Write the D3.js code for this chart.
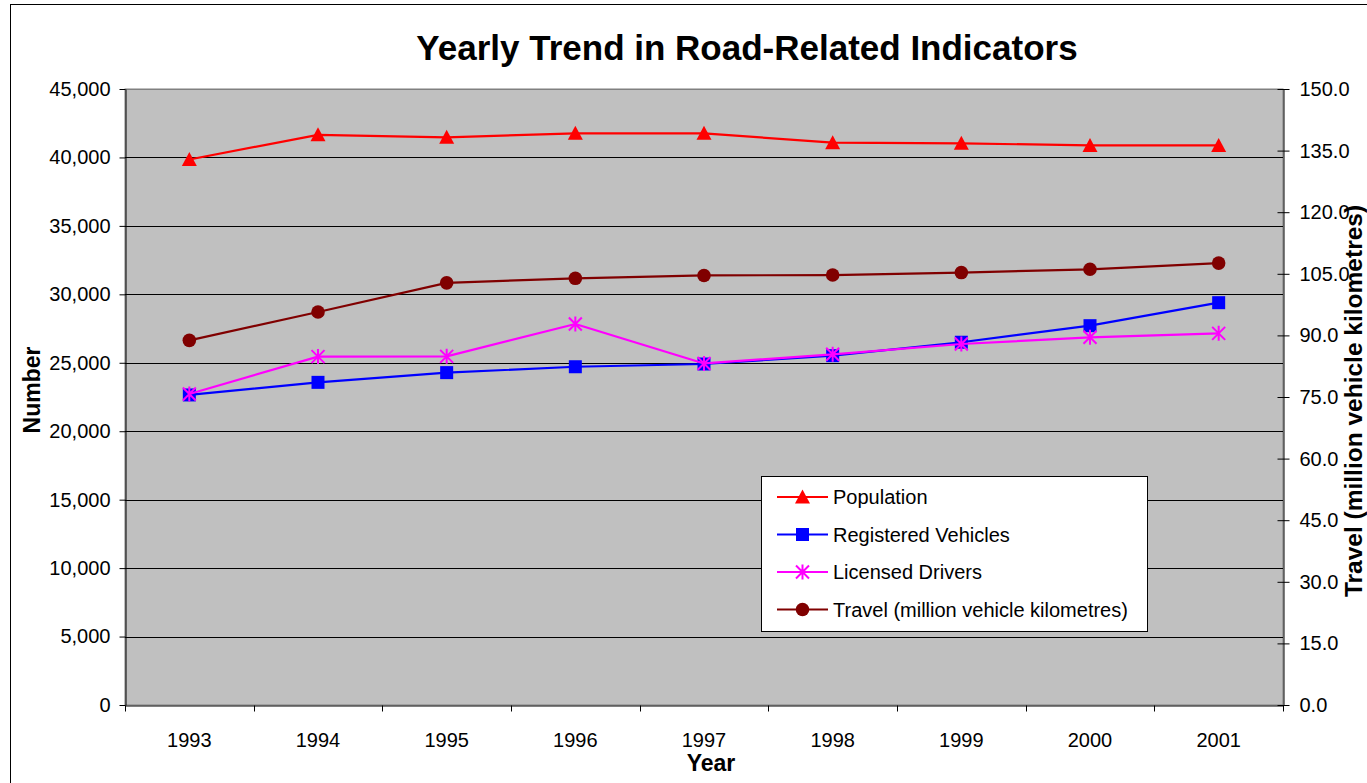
<!DOCTYPE html>
<html>
<head>
<meta charset="utf-8">
<script src="https://cdn.jsdelivr.net/npm/d3@7"></script>
<style>
  html, body { margin: 0; padding: 0; background: #ffffff; }
  svg { display: block; }
  text { font-family: "Liberation Sans", Arial, Helvetica, sans-serif; fill: #000; }
</style>
</head>
<body>
<svg id="chart" width="1367" height="783"></svg>
<script>
// ---- Data ----
const years = ["1993", "1994", "1995", "1996", "1997", "1998", "1999", "2000", "2001"];
const population = [39850, 41650, 41470, 41760, 41760, 41080, 41030, 40880, 40880];
const registeredVehicles = [22650, 23570, 24280, 24710, 24910, 25520, 26500, 27710, 29390];
const licensedDrivers = [22720, 25450, 25470, 27830, 24950, 25620, 26370, 26860, 27150];
const travel = [88.8, 95.7, 102.8, 103.9, 104.6, 104.7, 105.3, 106.1, 107.6];
const leftTicks = [0, 5000, 10000, 15000, 20000, 25000, 30000, 35000, 40000, 45000];
const rightTicks = [0, 15, 30, 45, 60, 75, 90, 105, 120, 135, 150];
const seriesNames = ["Population", "Registered Vehicles", "Licensed Drivers", "Travel (million vehicle kilometres)"];

// ---- Layout ----
const W = 1367, H = 783;
const plot = { left: 125, right: 1283, top: 89, bottom: 705 };
const svg = d3.select("#chart");

// outer chart border (cropped at right/bottom)
svg.append("rect").attr("x", 10.5).attr("y", 4.5).attr("width", 1400).attr("height", 900)
  .attr("fill", "#fff").attr("stroke", "#000").attr("stroke-width", 1);

const x = d3.scaleBand().domain(years).range([plot.left, plot.right]).padding(0);
const yL = d3.scaleLinear().domain([0, 45000]).range([plot.bottom, plot.top]);
const yR = d3.scaleLinear().domain([0, 150]).range([plot.bottom, plot.top]);
const cx = d => x(d) + x.bandwidth() / 2;

// plot area
svg.append("rect").attr("x", plot.left).attr("y", plot.top)
  .attr("width", plot.right - plot.left).attr("height", plot.bottom - plot.top)
  .attr("fill", "#c0c0c0").attr("stroke", "#808080").attr("stroke-width", 1);

// gridlines
svg.append("g").selectAll("line").data(leftTicks.filter(v => v > 0)).join("line")
  .attr("x1", plot.left).attr("x2", plot.right)
  .attr("y1", d => Math.round(yL(d)) + 0.5).attr("y2", d => Math.round(yL(d)) + 0.5)
  .attr("stroke", d => d === 45000 ? "#808080" : "#000").attr("stroke-width", 1);

// Left axis
const gL = svg.append("g").attr("transform", `translate(${plot.left + 0.5},0)`)
  .call(d3.axisLeft(yL).tickValues(leftTicks).tickFormat(d3.format(",")).tickSizeInner(6).tickSizeOuter(0).tickPadding(9));
gL.selectAll("text").style("font-size", "20px").style("font-family", '"Liberation Sans", Arial, sans-serif');
gL.select(".domain").attr("stroke", "#000");

// Right axis (cross ticks)
const gR = svg.append("g").attr("transform", `translate(${plot.right + 0.5},0)`)
  .call(d3.axisRight(yR).tickValues(rightTicks).tickFormat(d3.format(".1f")).tickSizeInner(6).tickSizeOuter(0).tickPadding(10));
gR.selectAll(".tick line").attr("x1", -6).attr("x2", 6);
gR.selectAll("text").style("font-size", "20px").style("font-family", '"Liberation Sans", Arial, sans-serif');
gR.select(".domain").attr("stroke", "#000");

// Bottom axis
const gB = svg.append("g").attr("transform", `translate(0,${plot.bottom + 0.5})`)
  .call(d3.axisBottom(x).tickSize(0).tickPadding(27));
gB.selectAll("text").style("font-size", "20px").style("font-family", '"Liberation Sans", Arial, sans-serif');
gB.select(".domain").attr("stroke", "#000");
const boundaries = years.map(d => x(d)).concat([plot.right]);
gB.selectAll(".bnd").data(boundaries).join("line").attr("class", "bnd")
  .attr("x1", d => Math.round(d) + 0.5).attr("x2", d => Math.round(d) + 0.5)
  .attr("y1", 0).attr("y2", 6).attr("stroke", "#000");

// Titles
svg.append("text").attr("x", 747).attr("y", 60).attr("text-anchor", "middle")
  .style("font-size", "35px").style("font-weight", "bold").text("Yearly Trend in Road-Related Indicators");
svg.append("text").attr("x", 711).attr("y", 771).attr("text-anchor", "middle")
  .style("font-size", "23px").style("font-weight", "bold").text("Year");
svg.append("text").attr("transform", "translate(40,390) rotate(-90)").attr("text-anchor", "middle")
  .style("font-size", "23px").style("font-weight", "bold").text("Number");
svg.append("text").attr("transform", "translate(1362,401) rotate(-90)").attr("text-anchor", "middle")
  .style("font-size", "24.5px").style("font-weight", "bold").text("Travel (million vehicle kilometres)");

// Marker drawers
const markers = {
  triangle: (g, color) => g.append("path").attr("d", "M0,-7.5L7.5,6.5L-7.5,6.5Z").attr("fill", color),
  square: (g, color) => g.append("rect").attr("x", -6.5).attr("y", -6.5).attr("width", 13).attr("height", 13).attr("fill", color),
  star: (g, color) => g.append("path").attr("d", "M0,-7.5L0,7.5M-6.5,-6.5L6.5,6.5M-6.5,6.5L6.5,-6.5")
    .attr("stroke", color).attr("stroke-width", 2).attr("fill", "none"),
  circle: (g, color) => g.append("circle").attr("r", 6.8).attr("fill", color)
};

const series = [
  { name: seriesNames[0], values: population, y: yL, color: "#ff0000", marker: "triangle" },
  { name: seriesNames[1], values: registeredVehicles, y: yL, color: "#0000ff", marker: "square" },
  { name: seriesNames[2], values: licensedDrivers, y: yL, color: "#ff00ff", marker: "star" },
  { name: seriesNames[3], values: travel, y: yR, color: "#800000", marker: "circle" }
];

series.forEach(s => {
  const pts = years.map((yr, i) => [cx(yr), s.y(s.values[i])]);
  svg.append("path").attr("d", d3.line()(pts)).attr("fill", "none")
    .attr("stroke", s.color).attr("stroke-width", 2.2).attr("stroke-linejoin", "round");
  pts.forEach(p => {
    const g = svg.append("g").attr("transform", `translate(${p[0]},${p[1]})`);
    markers[s.marker](g, s.color);
  });
});

// Legend
const lg = svg.append("g");
lg.append("rect").attr("x", 761.5).attr("y", 476.5).attr("width", 386).attr("height", 155)
  .attr("fill", "#fff").attr("stroke", "#000").attr("stroke-width", 1);
const rowY = [497, 534.5, 572, 609.5];
series.forEach((s, i) => {
  const yy = rowY[i];
  lg.append("line").attr("x1", 777).attr("x2", 828).attr("y1", yy).attr("y2", yy)
    .attr("stroke", s.color).attr("stroke-width", 2.2);
  const g = lg.append("g").attr("transform", `translate(802.5,${yy})`);
  markers[s.marker](g, s.color);
  lg.append("text").attr("x", 833).attr("y", yy).attr("dy", "0.35em")
    .style("font-size", "20px").text(s.name);
});
</script>
</body>
</html>
